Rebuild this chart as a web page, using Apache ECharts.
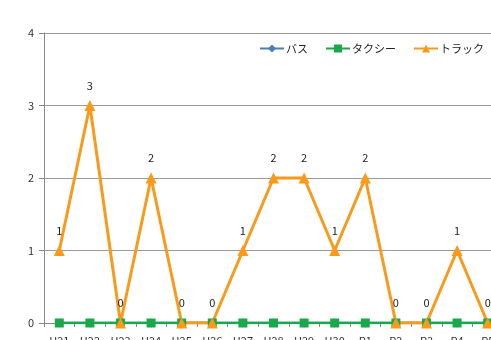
<!DOCTYPE html>
<html>
<head>
<meta charset="utf-8">
<script src="https://cdn.jsdelivr.net/npm/echarts@6/dist/echarts.min.js"></script>
<style>
  html, body { margin: 0; padding: 0; background: #fff; overflow: hidden; }
  #chart { width: 491px; height: 340px; }
</style>
</head>
<body>
<div id="chart"></div>
<script>
// 年度
const years = ['H21', 'H22', 'H23', 'H24', 'H25', 'H26', 'H27', 'H28', 'H29', 'H30', 'R1', 'R2', 'R3', 'R4', 'R5'];
// 件数
const bus   = [0, 0, 0, 0, 0, 0, 0, 0, 0, 0, 0, 0, 0, 0, 0];
const taxi  = [0, 0, 0, 0, 0, 0, 0, 0, 0, 0, 0, 0, 0, 0, 0];
const truck = [1, 3, 0, 2, 0, 0, 1, 2, 2, 1, 2, 0, 0, 1, 0];
const yTicks = [0, 1, 2, 3, 4];

const font = '"Noto Sans CJK JP", "Noto Sans", sans-serif';
const chart = echarts.init(document.getElementById('chart'));

chart.setOption({
  animation: false,
  textStyle: { fontFamily: font },
  legend: {
    top: 38,
    right: 2,
    itemWidth: 24,
    itemHeight: 10,
    itemGap: 17,
    textStyle: { fontSize: 11, color: '#222', fontFamily: font, padding: [0, 0, 0, -3] },
    data: ['バス', 'タクシー', 'トラック']
  },
  grid: { left: 44, top: 33, width: 459, height: 290, containLabel: false, outerBoundsMode: 'none' },
  xAxis: {
    type: 'category',
    data: years,
    boundaryGap: true,
    axisLine: { lineStyle: { color: '#888', width: 1 } },
    axisTick: { show: true, length: 4, inside: false, lineStyle: { color: '#888' } },
    axisLabel: { color: '#333', fontSize: 11, margin: 12, interval: 0 }
  },
  yAxis: {
    type: 'value',
    min: yTicks[0],
    max: yTicks[yTicks.length - 1],
    interval: 1,
    axisLine: { show: true, lineStyle: { color: '#888', width: 1 } },
    axisTick: { show: true, length: 5, lineStyle: { color: '#888' } },
    axisLabel: { color: '#333', fontSize: 11, margin: 10 },
    splitLine: { lineStyle: { color: '#999', width: 1 } }
  },
  series: [
    {
      name: 'バス', type: 'line', data: bus,
      symbol: 'diamond', symbolSize: 9,
      lineStyle: { color: '#4A7EBB', width: 2.5 },
      itemStyle: { color: '#4A7EBB' }
    },
    {
      name: 'タクシー', type: 'line', data: taxi,
      symbol: 'rect', symbolSize: 9,
      lineStyle: { color: '#1AA84B', width: 2.5 },
      itemStyle: { color: '#1AA84B' }
    },
    {
      name: 'トラック', type: 'line', data: truck,
      symbol: 'triangle', symbolSize: 11,
      lineStyle: { color: '#FA9A1B', width: 3 },
      itemStyle: { color: '#FA9A1B' },
      label: { show: true, position: 'top', distance: 9, color: '#222', fontSize: 11, fontFamily: font }
    }
  ]
});
</script>
</body>
</html>
